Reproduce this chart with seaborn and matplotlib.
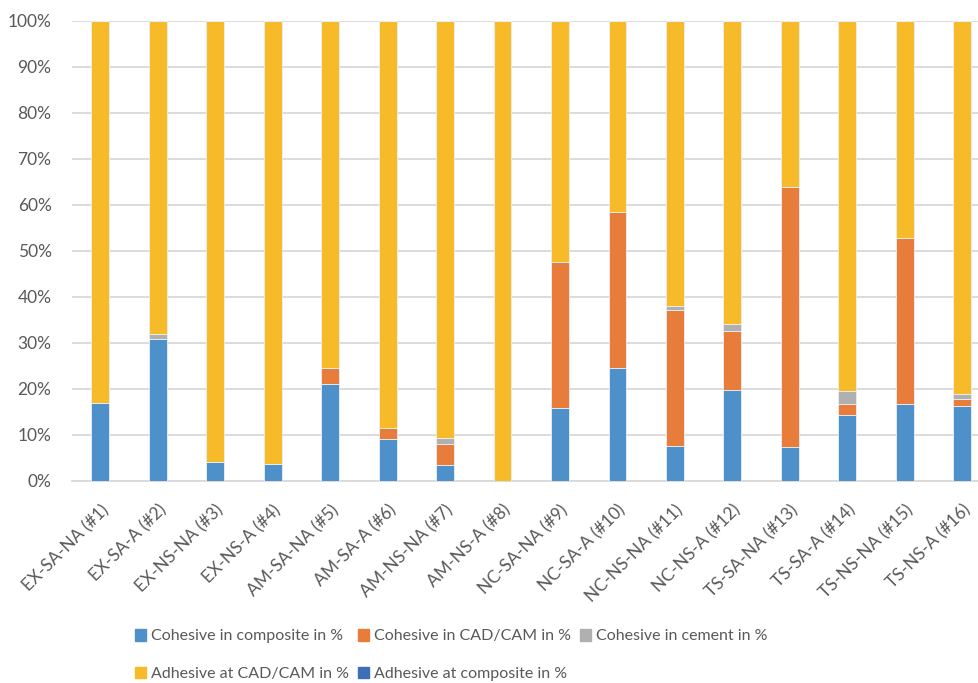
import matplotlib
matplotlib.use("Agg")
import matplotlib.pyplot as plt
import matplotlib.patches as mpatches
from matplotlib.ticker import PercentFormatter
import numpy as np
import pandas as pd
import seaborn as sns

groups = ["EX-SA-NA (#1)", "EX-SA-A (#2)", "EX-NS-NA (#3)", "EX-NS-A (#4)",
          "AM-SA-NA (#5)", "AM-SA-A (#6)", "AM-NS-NA (#7)", "AM-NS-A (#8)",
          "NC-SA-NA (#9)", "NC-SA-A (#10)", "NC-NS-NA (#11)", "NC-NS-A (#12)",
          "TS-SA-NA (#13)", "TS-SA-A (#14)", "TS-NS-NA (#15)", "TS-NS-A (#16)"]

cohesive_composite = [17.0, 30.9, 4.2, 3.6, 21.0, 9.1, 3.5, 0.0,
                      15.9, 24.5, 7.7, 19.7, 7.4, 14.3, 16.8, 16.4]
cohesive_cadcam = [0.0, 0.0, 0.0, 0.0, 3.6, 2.4, 4.6, 0.0,
                   31.8, 34.0, 29.5, 13.0, 56.4, 2.5, 36.1, 1.4]
cohesive_cement = [0.0, 1.0, 0.0, 0.0, 0.0, 0.0, 1.2, 0.0,
                   0.0, 0.0, 0.9, 1.4, 0.0, 2.8, 0.0, 1.1]
adhesive_composite = [0.0] * 16
adhesive_cadcam = [100 - a - b - c - d for a, b, c, d in
                   zip(cohesive_composite, cohesive_cadcam, cohesive_cement, adhesive_composite)]

series_names = ["Cohesive in composite in %", "Cohesive in CAD/CAM in %",
                "Cohesive in cement in %", "Adhesive at CAD/CAM in %",
                "Adhesive at composite in %"]
series_values = [cohesive_composite, cohesive_cadcam, cohesive_cement,
                 adhesive_cadcam, adhesive_composite]
colors = ["#4E91CA", "#E87D3B", "#B0B0B0", "#F7BA29", "#3F6EB8"]

sns.set_theme(style="white")
plt.rcParams["font.family"] = ["Lato", "DejaVu Sans"]
text_color = "#595959"

fig = plt.figure(figsize=(9.79, 6.83), dpi=100)
ax = fig.add_axes([0.0732, 0.2958, 0.9390, 0.6735])

df = pd.DataFrame({"group": groups})
bottom = np.zeros(len(groups))
for name, vals, col in zip(series_names, series_values, colors):
    df["value"] = vals
    sns.barplot(data=df, x="group", y="value", order=groups, color=col,
                width=0.31, bottom=bottom, ax=ax, edgecolor="#EAF0F7",
                linewidth=0.6, zorder=3, saturation=1)
    bottom = bottom + np.array(vals)

ax.set_ylim(0, 100)
ax.set_xlim(-0.5, 15.5)
ax.set_yticks(np.arange(0, 101, 10))
ax.yaxis.set_major_formatter(PercentFormatter(decimals=0))
ax.grid(axis="y", color="#D9D9D9", linewidth=1.3, zorder=0)
ax.set_axisbelow(True)
for s in ["top", "right", "left"]:
    ax.spines[s].set_visible(False)
ax.spines["bottom"].set_color("#D9D9D9")
ax.spines["bottom"].set_linewidth(1.3)
ax.set_xlabel("")
ax.set_ylabel("")
ax.tick_params(axis="both", length=0, colors=text_color, labelsize=12.5)
ax.tick_params(axis="y", pad=14.5)
for lab in ax.get_xticklabels():
    lab.set_rotation(45)
    lab.set_ha("right")
    lab.set_rotation_mode("anchor")
ax.tick_params(axis="x", pad=15)

handles = [mpatches.Patch(color=c, label=n) for n, c in zip(series_names, colors)]
order = [0, 3, 1, 4, 2]
leg = fig.legend([handles[i] for i in order], [series_names[i] for i in order],
                 ncol=3, loc="lower left", bbox_to_anchor=(0.123, -0.018),
                 frameon=False, fontsize=11.5, handlelength=0.72, handleheight=0.72,
                 handletextpad=0.3, columnspacing=0.55, labelspacing=1.45,
                 labelcolor=text_color)

fig.savefig("out.png", dpi=100)
